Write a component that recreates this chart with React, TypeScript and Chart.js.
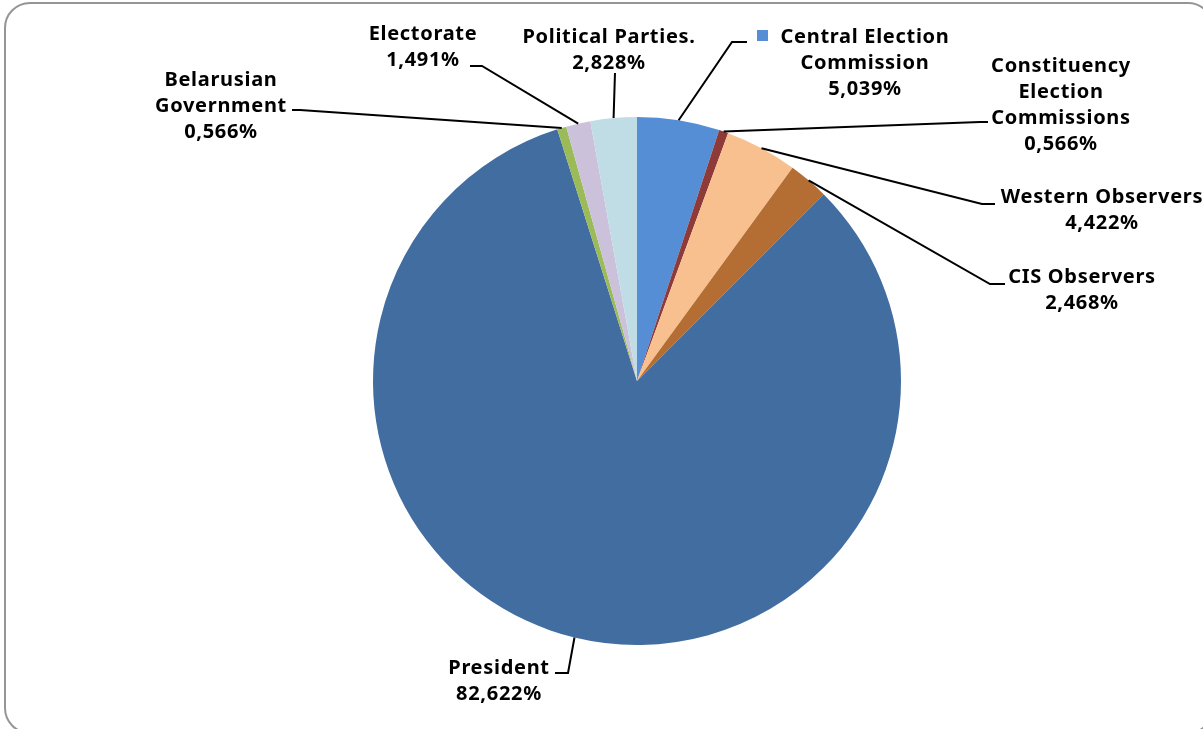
import React, { useEffect, useRef } from "react";
import { Chart, registerables } from "chart.js";

Chart.register(...registerables);

const categories = [
  "Central Election Commission",
  "Constituency Election Commissions",
  "Western Observers",
  "CIS Observers",
  "President",
  "Belarusian Government",
  "Electorate",
  "Political Parties.",
];
const shares = [5.039, 0.566, 4.422, 2.468, 82.622, 0.566, 1.491, 2.828];
const labelLines = [
  ["Central Election", "Commission"],
  ["Constituency", "Election", "Commissions"],
  ["Western Observers"],
  ["CIS Observers"],
  ["President"],
  ["Belarusian", "Government"],
  ["Electorate"],
  ["Political Parties."],
];
const colors = [
  "#558ED5",
  "#8E3A38",
  "#F9C08F",
  "#B46D33",
  "#426DA0",
  "#9BBB59",
  "#CCC1DA",
  "#C0DCE4",
];

// label layout (text anchor: center x, first-line baseline y)
const labelAnchors = [
  { x: 865, y: 43 },
  { x: 1061, y: 72 },
  { x: 1102, y: 203 },
  { x: 1082, y: 283 },
  { x: 499, y: 674 },
  { x: 221, y: 86 },
  { x: 423, y: 40 },
  { x: 609, y: 43 },
];
const leaderElbows = [
  [[732, 42], [747, 42]],
  [[980, 122], [988, 122]],
  [[982, 204], [995, 204]],
  [[990, 284], [1005, 284]],
  [[568, 673], [555, 673]],
  [[300, 110], [292, 110]],
  [[482, 66], [470, 66]],
  [[615, 73]],
];

const FONT = "bold 20px 'Noto Sans'";
const LINE_H = 26;

const fmt = (v: number) => v.toFixed(3).replace(".", ",") + "%";

const decorPlugin = {
  id: "decor",
  beforeDraw(chart: any) {
    const ctx = chart.ctx;
    ctx.save();
    ctx.strokeStyle = "#959595";
    ctx.lineWidth = 2;
    ctx.beginPath();
    ctx.roundRect(5, 3, 1208, 730, 25);
    ctx.stroke();
    ctx.restore();
  },
  afterDraw(chart: any) {
    const ctx = chart.ctx;
    const meta = chart.getDatasetMeta(0);
    ctx.save();
    meta.data.forEach((arc: any, i: number) => {
      const p = arc.getProps(["x", "y", "startAngle", "endAngle", "outerRadius"], true);
      const mid = (p.startAngle + p.endAngle) / 2;
      const sx = p.x + Math.cos(mid) * p.outerRadius;
      const sy = p.y + Math.sin(mid) * p.outerRadius;
      ctx.strokeStyle = "#000";
      ctx.lineWidth = 2;
      ctx.beginPath();
      ctx.moveTo(sx, sy);
      leaderElbows[i].forEach((pt) => ctx.lineTo(pt[0], pt[1]));
      ctx.stroke();

      const a = labelAnchors[i];
      const lines = [...labelLines[i], fmt(shares[i])];
      ctx.fillStyle = "#000";
      ctx.font = FONT;
      (ctx as any).letterSpacing = "0.7px";
      ctx.textAlign = "center";
      ctx.textBaseline = "alphabetic";
      lines.forEach((ln, k) => ctx.fillText(ln, a.x, a.y + k * LINE_H));
      if (i === 0) {
        ctx.fillStyle = colors[0];
        ctx.fillRect(757, 30, 11, 11);
      }
    });
    ctx.restore();
  },
};

export default function App() {
  const ref = useRef<HTMLCanvasElement | null>(null);
  useEffect(() => {
    if (!ref.current) return;
    const chart = new Chart(ref.current, {
      type: "pie",
      data: {
        labels: categories,
        datasets: [
          {
            data: shares,
            backgroundColor: colors,
            borderWidth: 0,
          },
        ],
      },
      options: {
        animation: false,
        responsive: false,
        layout: { padding: { left: 373, top: 117, right: 302, bottom: 84 } },
        plugins: { legend: { display: false }, tooltip: { enabled: false } },
      },
      plugins: [decorPlugin],
    });
    return () => chart.destroy();
  }, []);
  return (
    <div style={{ position: "fixed", left: 0, top: 0, width: 1203, height: 729, background: "#fff" }}>
      <canvas ref={ref} width={1203} height={729} />
    </div>
  );
}
